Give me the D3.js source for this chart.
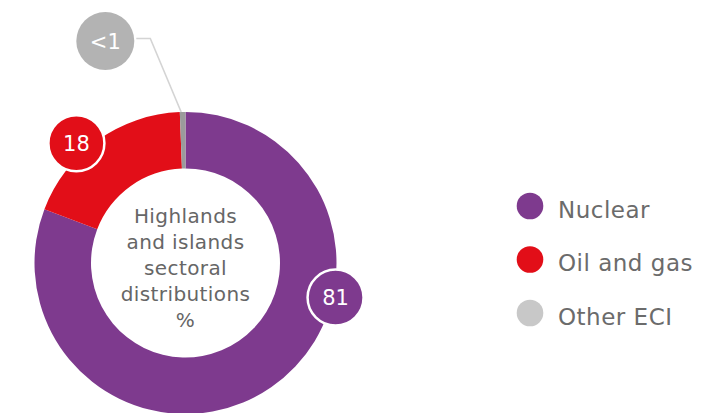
<!DOCTYPE html>
<html>
<head>
<meta charset="utf-8">
<script src="https://cdn.jsdelivr.net/npm/d3@7"></script>
<style>
  html, body { margin: 0; padding: 0; background: #fff; }
  svg { display: block; font-family: "DejaVu Sans", Verdana, sans-serif; }
</style>
</head>
<body>
<svg id="chart" width="703" height="413"></svg>
<script>
// Data
const categories = ["Nuclear", "Oil and gas", "Other ECI"];
const values = [80.8, 18.6, 0.6];
const valueLabels = ["81", "18", "<1"];
const titleLines = ["Highlands", "and islands", "sectoral", "distributions", "%"];

const sliceColors = ["#7e3a8e", "#e20e18", "#9b9b9b"];
const badgeColors = ["#7e3a8e", "#e20e18", "#b3b3b3"];
const legendColors = ["#7e3a8e", "#e20e18", "#c8c8c8"];

const svg = d3.select("#chart");
const cx = 185.5, cy = 263, outerR = 151, innerR = 94.5;

const data = categories.map((c, i) => ({ cat: c, value: values[i], label: valueLabels[i], i }));
const pie = d3.pie().sort(null).value(d => d.value);
const arcs = pie(data);
const arc = d3.arc().innerRadius(innerR).outerRadius(outerR);

const g = svg.append("g").attr("transform", `translate(${cx},${cy})`);
g.selectAll("path.slice").data(arcs).join("path")
  .attr("class", "slice")
  .attr("d", arc)
  .attr("fill", d => sliceColors[d.data.i]);

// Centre title
const title = g.append("text").attr("text-anchor", "middle")
  .attr("font-size", 20).attr("letter-spacing", 0.4).attr("fill", "#666666");
titleLines.forEach((t, k) => {
  title.append("tspan").attr("x", 0).attr("y", -40 + k * 26).text(t);
});

// Value badges
function pt(angle, r) { return [r * Math.sin(angle), -r * Math.cos(angle)]; }
const badgeR = 28;
const badgeLayout = [
  { frac: 0.354, r: 154 },
  { frac: 0.40, r: 162 }
];
arcs.slice(0, 2).forEach((a, k) => {
  const ang = a.startAngle + badgeLayout[k].frac * (a.endAngle - a.startAngle);
  const [x, y] = pt(ang, badgeLayout[k].r);
  g.append("circle").attr("cx", x).attr("cy", y).attr("r", badgeR)
    .attr("fill", badgeColors[a.data.i]).attr("stroke", "#fff").attr("stroke-width", 2.5);
  g.append("text").attr("x", x).attr("y", y).attr("dy", "0.36em")
    .attr("text-anchor", "middle").attr("font-size", 21).attr("fill", "#fff")
    .text(a.data.label);
});

// Small slice label with leader line
const small = arcs[2];
const midAng = (small.startAngle + small.endAngle) / 2;
const [ex, ey] = pt(midAng, outerR);
const bx = 105.3 - cx, by = 41 - cy;
g.append("polyline")
  .attr("points", [[bx + 31, by - 2.5], [bx + 45, by - 2.5], [ex - 1.5, ey]].map(p => p.join(",")).join(" "))
  .attr("fill", "none").attr("stroke", "#d4d4d4").attr("stroke-width", 1.6);
g.append("circle").attr("cx", bx).attr("cy", by).attr("r", 29)
  .attr("fill", badgeColors[2]);
g.append("text").attr("x", bx).attr("y", by).attr("dy", "0.36em")
  .attr("text-anchor", "middle").attr("font-size", 21).attr("fill", "#fff")
  .text(small.data.label);

// Legend
const legend = svg.append("g").attr("transform", "translate(530,206)");
const ly = d3.scalePoint().domain(categories).range([0, 107]);
const items = legend.selectAll("g").data(categories).join("g")
  .attr("transform", d => `translate(0,${ly(d)})`);
items.append("circle").attr("r", 13.3).attr("fill", (d, i) => legendColors[i]);
items.append("text").attr("x", 28).attr("y", 11.5)
  .attr("font-size", 23).attr("letter-spacing", 0.5).attr("fill", "#6b6b6b").text(d => d);
</script>
</body>
</html>
